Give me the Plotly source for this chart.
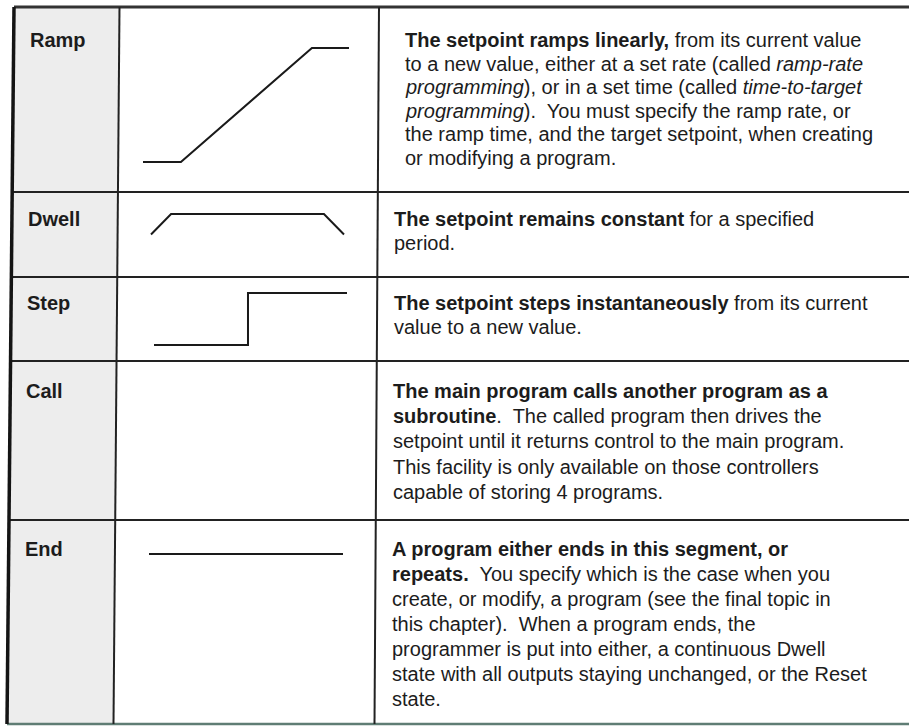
import plotly.graph_objects as go

# ---------------- data ----------------
segment_types = ["Ramp", "Dwell", "Step", "Call", "End"]

descriptions = [
    ["<b>The setpoint ramps linearly,</b> from its current value",
     "to a new value, either at a set rate (called <i>ramp-rate</i>",
     "<i>programming</i>), or in a set time (called <i>time-to-target</i>",
     "<i>programming</i>).\u00a0 You must specify the ramp rate, or",
     "the ramp time, and the target setpoint, when creating",
     "or modifying a program."],
    ["<b>The setpoint remains constant</b> for a specified",
     "period."],
    ["<b>The setpoint steps instantaneously</b> from its current",
     "value to a new value."],
    ["<b>The main program calls another program as a</b>",
     "<b>subroutine</b>.\u00a0 The called program then drives the",
     "setpoint until it returns control to the main program.",
     "This facility is only available on those controllers",
     "capable of storing 4 programs."],
    ["<b>A program either ends in this segment, or</b>",
     "<b>repeats.</b>\u00a0 You specify which is the case when you",
     "create, or modify, a program (see the final topic in",
     "this chapter).\u00a0 When a program ends, the",
     "programmer is put into either, a continuous Dwell",
     "state with all outputs staying unchanged, or the Reset",
     "state."],
]

# setpoint profiles: time fraction vs setpoint level (None = no symbol)
profile_time = [
    [0.0, 0.184, 0.82, 1.0],
    [0.0, 0.104, 0.896, 1.0],
    [0.0, 0.487, 0.487, 1.0],
    None,
    [0.0, 1.0],
]
profile_level = [
    [0.0, 0.0, 1.0, 1.0],
    [0.0, 1.0, 1.0, 0.0],
    [0.0, 0.0, 1.0, 1.0],
    None,
    [0.0, 0.0],
]

# ---------------- layout geometry (pixels) ----------------
W, H = 909, 727
TOP, BOTTOM = 7, 724
row_edges = [TOP, 192, 277, 361, 520, BOTTOM]
# skewed vertical lines (top x, bottom x)
left_border = (14, 7)
col1 = (119.5, 113.5)
col2 = (379, 374.5)

def xat(line, y):
    return line[0] + (line[1] - line[0]) * (y - TOP) / (BOTTOM - TOP)

# icon boxes: x0, x1, y at level 0, y at level 1
icon_boxes = [
    (143, 349, 162, 48),
    (151, 344, 234.5, 214),
    (154, 347, 345, 293),
    None,
    (149, 343, 554, 554),
]
first_line_offset = [33, 27, 26, 30, 29]
line_gap = [23.6, 24, 24, 25.2, 25]
desc_x = [403, 392, 391.5, 391, 390]
FS = 20

fig = go.Figure()

line_col = "#222222"
shapes = []
# column 1 grey fill
shapes.append(dict(type="path",
                   path=f"M {col1[0]} {TOP} L {xat(left_border, TOP)} {TOP} L {left_border[1]} {BOTTOM} L {col1[1]} {BOTTOM} Z",
                   fillcolor="#ededed", line=dict(width=0), layer="below"))
# horizontal lines
for i, y in enumerate(row_edges):
    if i == 0:
        shapes.append(dict(type="line", x0=xat(left_border, y), x1=W, y0=y, y1=y,
                           line=dict(color="#333333", width=3)))
    elif i == len(row_edges) - 1:
        shapes.append(dict(type="line", x0=xat(left_border, y), x1=W, y0=y, y1=y,
                           line=dict(color="#5f7d74", width=2.5)))
    else:
        shapes.append(dict(type="line", x0=xat(left_border, y), x1=W, y0=y, y1=y,
                           line=dict(color=line_col, width=2)))
# vertical lines
shapes.append(dict(type="line", x0=left_border[0], x1=left_border[1], y0=TOP, y1=BOTTOM,
                   line=dict(color="#141414", width=3.5)))
for ln in (col1, col2):
    shapes.append(dict(type="line", x0=ln[0], x1=ln[1], y0=TOP, y1=BOTTOM,
                       line=dict(color=line_col, width=2)))

# setpoint symbols
for i, name in enumerate(segment_types):
    if profile_time[i] is None:
        continue
    x0, x1, yl0, yl1 = icon_boxes[i]
    xs = [x0 + t * (x1 - x0) for t in profile_time[i]]
    ys = [yl0 + v * (yl1 - yl0) for v in profile_level[i]]
    fig.add_trace(go.Scatter(x=xs, y=ys, mode="lines", name=name,
                             line=dict(color="#1a1a1a", width=2),
                             hoverinfo="skip", showlegend=False))

annotations = []
font_family = "Liberation Sans, Arial, sans-serif"
for i, name in enumerate(segment_types):
    ytop = row_edges[i]
    y1 = ytop + first_line_offset[i]
    annotations.append(dict(x=xat(left_border, y1) + 14, y=y1, text=f"<b>{name}</b>",
                            xanchor="left", yanchor="middle", showarrow=False,
                            font=dict(family=font_family, size=FS, color="#1c1c1c")))
    for j, txt in enumerate(descriptions[i]):
        yy = y1 + j * line_gap[i]
        annotations.append(dict(x=desc_x[i], y=yy, text=txt,
                                xanchor="left", yanchor="middle", showarrow=False,
                                font=dict(family=font_family, size=FS, color="#1c1c1c")))

fig.update_layout(
    width=W, height=H,
    margin=dict(l=0, r=0, t=0, b=0),
    paper_bgcolor="white", plot_bgcolor="white",
    xaxis=dict(range=[0, W], visible=False, fixedrange=True),
    yaxis=dict(range=[H, 0], visible=False, fixedrange=True),
    shapes=shapes, annotations=annotations,
    showlegend=False,
)

fig.write_html("out.html", config={"displayModeBar": False},
               post_script="document.body.style.margin='0';document.body.style.overflow='hidden';")
